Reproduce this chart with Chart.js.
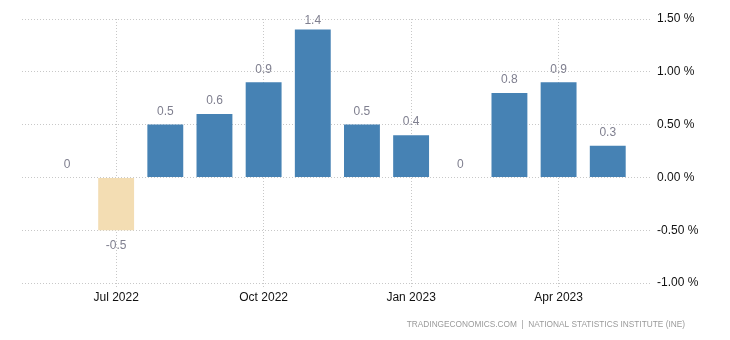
<!DOCTYPE html>
<html>
<head>
<meta charset="utf-8">
<script src="https://cdn.jsdelivr.net/npm/chart.js@4/dist/chart.umd.min.js"></script>
<style>
  html, body { margin: 0; padding: 0; background: #fff; }
  #wrap { width: 730px; height: 340px; position: relative; }
</style>
</head>
<body>
<div id="wrap"><canvas id="chart"></canvas></div>
<script>
// monthly values, Jun 2022 .. May 2023
var months = ['Jun 2022', 'Jul 2022', 'Aug 2022', 'Sep 2022', 'Oct 2022', 'Nov 2022',
              'Dec 2022', 'Jan 2023', 'Feb 2023', 'Mar 2023', 'Apr 2023', 'May 2023'];
var values = [0, -0.5, 0.5, 0.6, 0.9, 1.4, 0.5, 0.4, 0, 0.8, 0.9, 0.3];
var tickMonths = [1, 4, 7, 10]; // Jul, Oct, Jan, Apr
var yTicks = [-1, -0.5, 0, 0.5, 1, 1.5];
var sourceText = 'TRADINGECONOMICS.COM  |  NATIONAL STATISTICS INSTITUTE (INE)';

var FONT = "'Liberation Sans', Arial, sans-serif";

// draws the value above (or below) each bar plus the source line
var labelPlugin = {
  id: 'valueLabels',
  afterDatasetsDraw: function (chart) {
    var ctx = chart.ctx;
    var meta = chart.getDatasetMeta(0);
    ctx.save();
    ctx.font = '12px ' + FONT;
    ctx.fillStyle = '#7f7f8f';
    ctx.textAlign = 'center';
    ctx.textBaseline = 'middle';
    meta.data.forEach(function (bar, i) {
      var v = values[i];
      var y;
      if (v < 0) {
        y = bar.y + 15;
      } else {
        y = Math.max(bar.y - 13, chart.chartArea.top + 2);
      }
      ctx.fillText(String(v), bar.x, y);
    });
    ctx.font = '8.3px ' + FONT;
    ctx.fillStyle = '#9a9a9a';
    ctx.textAlign = 'right';
    ctx.fillText(sourceText, 685, 325);
    ctx.restore();
  }
};

var chart = new Chart(document.getElementById('chart').getContext('2d'), {
  type: 'bar',
  data: {
    datasets: [{
      data: values.map(function (v, i) { return { x: i, y: v }; }),
      backgroundColor: values.map(function (v) { return v < 0 ? '#f3ddb3' : '#4682b4'; }),
      borderWidth: 0,
      barPercentage: 0.73,
      categoryPercentage: 1
    }]
  },
  options: {
    responsive: true,
    maintainAspectRatio: false,
    animation: false,
    layout: { padding: { left: 22, top: 19, right: 0, bottom: 0 } },
    plugins: {
      legend: { display: false },
      tooltip: { enabled: false }
    },
    scales: {
      x: {
        type: 'linear',
        offset: false,
        min: -0.915,
        max: 11.9,
        afterBuildTicks: function (scale) {
          scale.ticks = tickMonths.map(function (v) { return { value: v }; });
        },
        afterFit: function (scale) { scale.height = 57; },
        border: { display: false, dash: [1, 2] },
        grid: {
          offset: false,
          color: '#c8c8c8',
          tickLength: 5,
          tickBorderDash: [1, 2]
        },
        ticks: {
          autoSkip: false,
          maxRotation: 0,
          padding: 2,
          color: '#111',
          font: { family: FONT, size: 12 },
          callback: function (v) { return months[v]; }
        }
      },
      y: {
        position: 'right',
        min: -1,
        max: 1.5,
        afterBuildTicks: function (scale) {
          scale.ticks = yTicks.map(function (v) { return { value: v }; });
        },
        afterFit: function (scale) { scale.width = 78; },
        border: { display: false, dash: [1, 2] },
        grid: {
          color: '#c8c8c8',
          drawTicks: false
        },
        ticks: {
          padding: 5,
          color: '#111',
          font: { family: FONT, size: 12 },
          callback: function (v) { return v.toFixed(2) + ' %'; }
        }
      }
    }
  },
  plugins: [labelPlugin]
});
</script>
</body>
</html>
